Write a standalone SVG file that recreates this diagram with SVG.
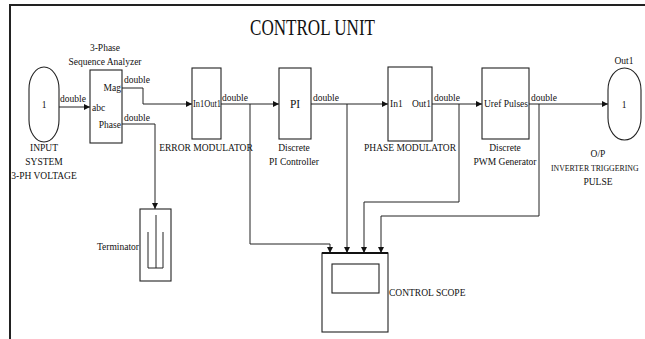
<svg xmlns="http://www.w3.org/2000/svg" width="645" height="339" viewBox="0 0 645 339" font-family="'Liberation Serif', 'Times New Roman', serif">
<defs>
<style>
text{font-family:'Liberation Serif','Times New Roman',serif;fill:#111;font-size:9.5px}
.c{text-anchor:middle}
.e{text-anchor:end}
.blk{fill:#fff;stroke:#222;stroke-width:1.1}
.ln{fill:none;stroke:#222;stroke-width:1}
</style>
<marker id="ah" markerUnits="userSpaceOnUse" markerWidth="6" markerHeight="6" refX="6" refY="3" orient="auto">
<path d="M0,0 L6,3 L0,6 Z" fill="#111"/>
</marker>
</defs>
<rect width="645" height="339" fill="#fff"/>
<g id="frame">
<path d="M10,339 V5 H645" fill="none" stroke="#222" stroke-width="2"/>
<text x="250" y="35" textLength="125" lengthAdjust="spacingAndGlyphs" style="font-size:23px">CONTROL UNIT</text>
</g>
<g id="connectors">
<path class="ln" d="M59,107 H90" marker-end="url(#ah)"/>
<path class="ln" d="M122,88 H143 V104 H192" marker-end="url(#ah)"/>
<path class="ln" d="M122,124 H155 V209" marker-end="url(#ah)"/>
<path class="ln" d="M221,104 H279" marker-end="url(#ah)"/>
<path class="ln" d="M311,104 H388" marker-end="url(#ah)"/>
<path class="ln" d="M432,104 H482" marker-end="url(#ah)"/>
<path class="ln" d="M529,104 H608" marker-end="url(#ah)"/>
<path class="ln" d="M250,104 V244 H330 V253" marker-end="url(#ah)"/>
<path class="ln" d="M347,104 V253" marker-end="url(#ah)"/>
<path class="ln" d="M459,104 V202 H364 V253" marker-end="url(#ah)"/>
<path class="ln" d="M539,104 V216 H381 V253" marker-end="url(#ah)"/>
<text x="60" y="102">double</text>
<text x="124" y="83">double</text>
<text x="124" y="121">double</text>
<text x="222" y="101">double</text>
<text x="313" y="101">double</text>
<text x="434" y="101">double</text>
<text x="531" y="101">double</text>
</g>
<g id="input">
<rect class="blk" x="29" y="67" width="30" height="75" rx="15" ry="22"/>
<text class="c" x="44" y="108">1</text>
<text class="c" x="44" y="151">INPUT</text>
<text class="c" x="44" y="165">SYSTEM</text>
<text class="c" x="44" y="179">3-PH VOLTAGE</text>
</g>
<g id="analyzer">
<rect class="blk" x="90" y="70" width="32" height="73"/>
<text class="c" x="105" y="51">3-Phase</text>
<text class="c" x="105" y="65">Sequence Analyzer</text>
<text x="92" y="111">abc</text>
<text class="e" x="121" y="91">Mag</text>
<text class="e" x="121" y="128">Phase</text>
</g>
<g id="terminator">
<rect class="blk" x="140" y="209" width="31" height="72"/>
<path class="ln" d="M148,232 V268 H163 V232 M156,215 V268"/>
<text class="e" x="139" y="250">Terminator</text>
</g>
<g id="error-modulator">
<rect class="blk" x="192" y="68" width="29" height="71"/>
<text x="193" y="107" textLength="28" lengthAdjust="spacingAndGlyphs">In1Out1</text>
<text class="c" x="206" y="151">ERROR MODULATOR</text>
</g>
<g id="pi">
<rect class="blk" x="279" y="68" width="32" height="71"/>
<text class="c" x="295" y="108" style="font-size:11.5px">PI</text>
<text class="c" x="294" y="151">Discrete</text>
<text class="c" x="294" y="165">PI Controller</text>
</g>
<g id="phase-modulator">
<rect class="blk" x="388" y="67" width="44" height="74"/>
<text x="390" y="107">In1</text>
<text class="e" x="431" y="107">Out1</text>
<text class="c" x="410" y="151">PHASE MODULATOR</text>
</g>
<g id="pwm">
<rect class="blk" x="482" y="68" width="47" height="71"/>
<text x="484" y="107">Uref</text>
<text class="e" x="528" y="107">Pulses</text>
<text class="c" x="505" y="151">Discrete</text>
<text class="c" x="505" y="165">PWM Generator</text>
</g>
<g id="output">
<rect class="blk" x="608" y="68" width="33" height="72" rx="16.5" ry="22"/>
<text class="c" x="624" y="64">Out1</text>
<text class="c" x="624" y="108">1</text>
<text class="c" x="598" y="157">O/P</text>
<text x="551" y="171" style="font-size:7.8px">INVERTER TRIGGERING</text>
<text class="c" x="598" y="185">PULSE</text>
</g>
<g id="scope">
<rect class="blk" x="322" y="253" width="66" height="79"/>
<path d="M322,253 H388" stroke="#111" stroke-width="2"/>
<rect class="blk" x="332" y="264" width="47" height="29"/>
<text x="389" y="296">CONTROL SCOPE</text>
</g>
</svg>
